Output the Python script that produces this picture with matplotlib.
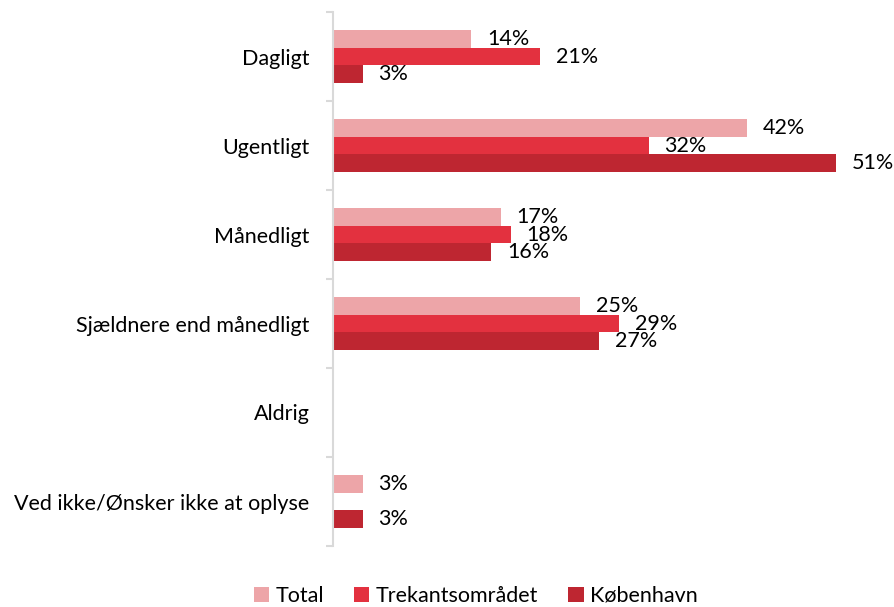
import matplotlib
matplotlib.use("Agg")
import matplotlib.pyplot as plt
import numpy as np

categories = ["Dagligt", "Ugentligt", "Månedligt", "Sjældnere end månedligt", "Aldrig",
              "Ved ikke/Ønsker ikke at oplyse"]
series_names = ["Total", "Trekantsområdet", "København"]
total = [14, 42, 17, 25, np.nan, 3]
trekant = [21, 32, 18, 29, np.nan, np.nan]
kobenhavn = [3, 51, 16, 27, np.nan, 3]
colors = ["#EDA5A8", "#E3313F", "#BE2631"]

plt.rcParams['font.family'] = ['Lato', 'DejaVu Sans']

fig = plt.figure(figsize=(8.95, 6.07), dpi=100)
ax = fig.add_axes([333/895, 61/607, 503/895, 534/607])

y = np.arange(len(categories))
h = 0.2
offsets = [-h, 0, h]
for vals, off, col, name in zip([total, trekant, kobenhavn], offsets, colors, series_names):
    v = np.array(vals, dtype=float)
    ax.barh(y + off, np.nan_to_num(v), height=h, color=col, label=name,
            edgecolor="none")
    for yi, val in zip(y, v):
        if not np.isnan(val):
            ax.annotate(f"{val:.0f}%", xy=(val, yi + off), xytext=(16, 0),
                        textcoords="offset pixels",
                        va="center", ha="left", fontsize=15.5, color="black")

ax.set_xlim(0, 51)
ax.set_ylim(len(categories) - 0.5, -0.5)
ax.set_yticks(y)
ax.set_yticklabels(categories, fontsize=15.5)
ax.tick_params(axis="y", which="major", length=0, pad=17)
ax.set_yticks(np.arange(-0.5, len(categories)), minor=True)
ax.tick_params(axis="y", which="minor", length=5, width=1.5, color="#D9D9D9")
ax.set_xticks([])
for s in ["top", "right", "bottom"]:
    ax.spines[s].set_visible(False)
ax.spines["left"].set_color("#D9D9D9")
ax.spines["left"].set_linewidth(1.5)

fig.legend(loc="lower center", bbox_to_anchor=(476/895, -0.03), ncol=3, frameon=False,
           fontsize=15.5, handlelength=0.7, handleheight=0.7, handletextpad=0.3,
           columnspacing=1.4)

fig.savefig("out.png", dpi=100)
